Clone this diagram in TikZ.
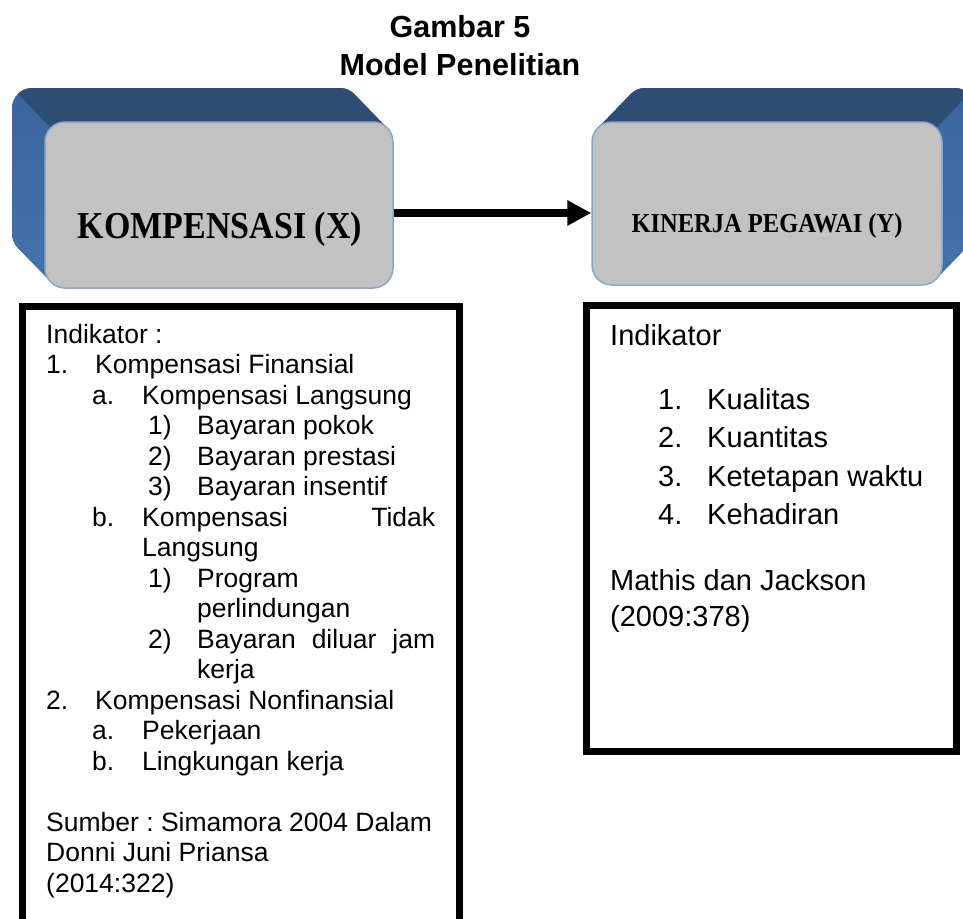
\documentclass[tikz,border=0pt]{standalone}
\usepackage{fontspec}
\usepackage{graphicx}
\setmainfont{Liberation Sans}
\newfontfamily\camfont{Liberation Serif}
\usetikzlibrary{arrows.meta,calc}
\definecolor{topblue}{RGB}{46,77,116}
\definecolor{sideblueA}{RGB}{58,100,155}
\definecolor{sideblueB}{RGB}{70,116,172}
\definecolor{frontgray}{RGB}{194,194,194}
\definecolor{frontedge}{RGB}{140,165,200}
\newcommand\lvA[2]{\makebox[49pt][l]{#1}#2}
\newcommand\lvB[2]{\hspace*{46pt}\makebox[50pt][l]{#1}#2}
\newcommand\lvC[2]{\hspace*{102pt}\makebox[49pt][l]{#1}#2}
\newcommand\lvR[2]{\hspace*{48pt}\makebox[49pt][l]{#1}#2}
\tikzset{
  front/.style={draw=frontedge, fill=frontgray, rounded corners=20pt, line width=1.5pt, inner sep=0pt},
  boxline/.style={line width=7pt, draw=black},
  bigarrow/.style={line width=8pt, -{Triangle[length=24pt,width=24pt]}},
}
\begin{document}
\frenchspacing
\begin{tikzpicture}[x=1pt,y=-1pt]
\useasboundingbox (0,0) rectangle (963,918);
\clip (0,0) rectangle (963,918);
\fill[white] (0,0) rectangle (963,918);

% title
\node[anchor=base, inner sep=0pt, font=\bfseries\fontsize{30.5}{36}\selectfont] (t1) at (460,37) {Gambar 5};
\node[anchor=base, inner sep=0pt, font=\bfseries\fontsize{30.5}{36}\selectfont] (t2) at (460,75) {Model Penelitian};

% ---- left 3D box extrusion
\begin{scope}
  \clip[rounded corners=20pt] (12,88) rectangle (360,254);
  \shade[top color=sideblueA, bottom color=sideblueB] (0,80) rectangle (400,300);
  \fill[topblue] (-48.1,25.9) -- (248.9,331.9) -- (848.9,-268.1) -- (551.9,-574.1) -- cycle;
\end{scope}
\begin{scope}
  \clip (354.1,93.9) -- (387.1,127.9) -- (50.9,282.1) -- (17.9,248.1) -- cycle;
  \shade[top color=sideblueA, bottom color=sideblueB] (0,80) rectangle (400,300);
  \fill[topblue] (-48.1,25.9) -- (248.9,331.9) -- (848.9,-268.1) -- (551.9,-574.1) -- cycle;
\end{scope}

% ---- right 3D box extrusion
\begin{scope}
  \clip[rounded corners=20pt] (625,88) rectangle (975,251);
  \shade[top color=sideblueA, bottom color=sideblueB] (580,80) rectangle (980,300);
  \fill[topblue] (1035.1,25.9) -- (738.1,331.9) -- (138.1,-268.1) -- (435.1,-574.1) -- cycle;
\end{scope}
\begin{scope}
  \clip (630.9,93.9) -- (597.9,127.9) -- (936.1,279.1) -- (969.1,245.1) -- cycle;
  \shade[top color=sideblueA, bottom color=sideblueB] (580,80) rectangle (980,300);
  \fill[topblue] (1035.1,25.9) -- (738.1,331.9) -- (138.1,-268.1) -- (435.1,-574.1) -- cycle;
\end{scope}

% ---- front faces
\node[front, minimum width=348pt, minimum height=166pt] (kx) at (219,205) {};
\node[front, minimum width=350pt, minimum height=163pt] (ky) at (767,203.5) {};
\node[anchor=base, inner sep=0pt, font=\camfont\bfseries\fontsize{34}{40}\selectfont] (kxl) at (220,238) {\scalebox{1}[1.12]{KOMPENSASI (X)}};
\node[anchor=base, inner sep=0pt, font=\camfont\bfseries\fontsize{24.5}{30}\selectfont] (kyl) at (767,232) {\scalebox{1}[1.12]{KINERJA PEGAWAI (Y)}};

% ---- arrow
\coordinate (ay) at (0,213);
\draw[bigarrow] (kx.east |- ay) -- (ky.west |- ay);

% ---- left indicator box (open at bottom)
\draw[boxline] (22.5,940) -- (22.5,306) -- (459,306) -- (459,940);
\node[anchor=base west, inner sep=0pt] (xtext) at (46,343) {%
\begin{minipage}[t]{400pt}\fontsize{26.5}{30.5}\selectfont\setlength\parindent{0pt}\frenchspacing
Indikator :\\
\lvA{1.}{Kompensasi Finansial}\\
\lvB{a.}{Kompensasi Langsung}\\
\lvC{1)}{Bayaran pokok}\\
\lvC{2)}{Bayaran prestasi}\\
\lvC{3)}{Bayaran insentif}\\
\lvB{b.}{\makebox[293pt][s]{Kompensasi\hfill Tidak}}\\
\hspace*{96pt}Langsung\\
\lvC{1)}{Program}\\
\hspace*{151pt}perlindungan\\
\lvC{2)}{\makebox[238pt][s]{Bayaran\hfill diluar\hfill jam}}\\
\hspace*{151pt}kerja\\
\lvA{2.}{Kompensasi Nonfinansial}\\
\lvB{a.}{Pekerjaan}\\
\lvB{b.}{Lingkungan kerja}\\
\mbox{}\\
Sumber : Simamora 2004 Dalam\\
Donni Juni Priansa\\
(2014:322)
\end{minipage}};

% ---- right indicator box
\draw[boxline] (586.5,305.5) rectangle (956.5,751.5);
\node[anchor=base west, inner sep=0pt] (ytext) at (610,345) {%
\begin{minipage}[t]{330pt}\fontsize{29}{38.5}\selectfont\setlength\parindent{0pt}\frenchspacing
Indikator\\[25.5pt]
\lvR{1.}{Kualitas}\\
\lvR{2.}{Kuantitas}\\
\lvR{3.}{Ketetapan waktu}\\
\lvR{4.}{Kehadiran}\\[27pt]
Mathis dan Jackson\\[-2.5pt]
(2009:378)
\end{minipage}};
\end{tikzpicture}
\end{document}
